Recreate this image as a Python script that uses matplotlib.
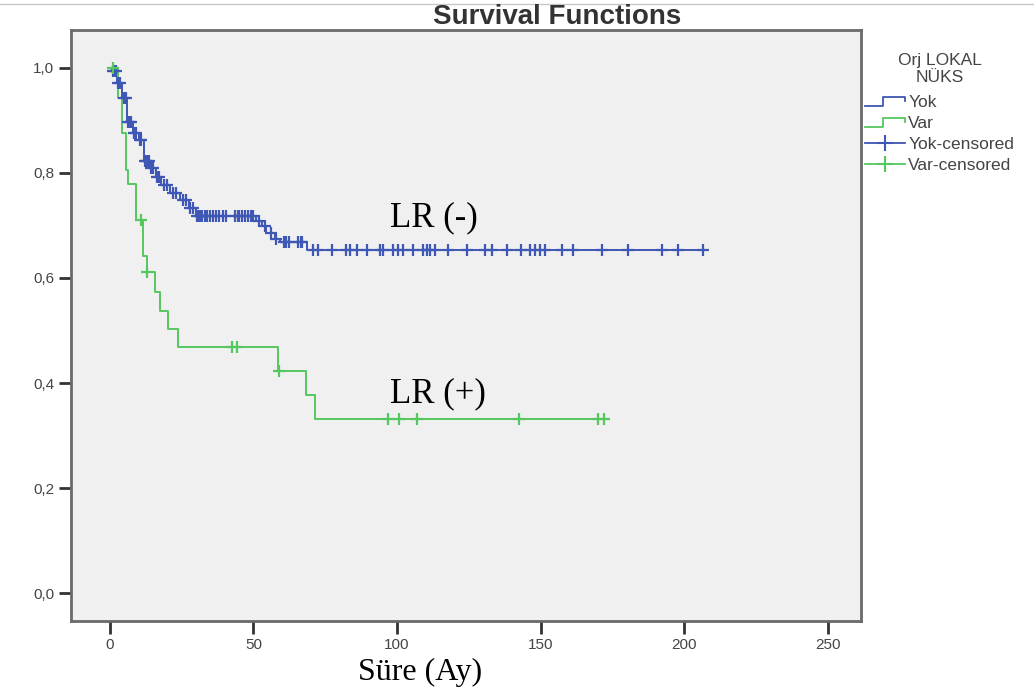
import matplotlib
matplotlib.use("Agg")
import matplotlib.pyplot as plt
import numpy as np
from matplotlib.lines import Line2D
from matplotlib.legend_handler import HandlerBase

# ---------------- data ----------------
yok_times = [0, 0.6, 2.4, 4.2, 6.0, 8.0, 10.0, 11.8, 14.0, 16.0, 18.0, 21.0,
             24.5, 27.5, 30.0, 51.0, 53.0, 54.5, 57.5, 59.2, 68.5]
yok_surv = [1.000, 0.994, 0.971, 0.943, 0.897, 0.876, 0.863, 0.822, 0.810,
            0.792, 0.777, 0.762, 0.748, 0.733, 0.717, 0.708, 0.699, 0.686,
            0.675, 0.669, 0.653]
yok_censored = [1.0, 1.5, 2.0, 3.0, 3.5, 4.8, 5.5, 6.5, 7.0, 7.5, 8.5, 9.0,
                10.5, 11.0, 12.2, 12.6, 13.0, 13.5, 14.5, 15.0, 16.5, 17.0,
                19.0, 20.0, 22.0, 23.0, 25.5, 26.5, 28.0, 29.0, 30.5, 31.0,
                31.5, 32.0, 33.0, 34.0, 35.0, 36.0, 37.0, 38.0, 39.5, 40.5,
                43.5, 44.5, 45.0, 46.0, 47.0, 48.0, 49.0, 50.0, 52.0, 54.0,
                56.0, 58.0, 60.5, 61.5, 62.5, 65.5, 66.5, 67.0,
                70.8, 72.5, 77.2, 82.4, 83.6, 85.9, 89.4, 94.0, 95.2, 98.7,
                100.4, 102.2, 105.6, 109.1, 110.3, 111.4, 113.2, 117.8, 124.2,
                130.6, 132.9, 138.1, 143.3, 146.2, 148.0, 149.7, 151.5, 157.3,
                161.3, 171.2, 180.4, 192.1, 197.9, 206.5]

var_times = [0, 2.9, 4.1, 5.8, 6.4, 9.3, 11.6, 12.8, 15.7, 17.4, 20.3, 23.6,
             58.5, 68.2, 71.4]
var_surv = [1.000, 0.943, 0.876, 0.806, 0.779, 0.710, 0.642, 0.611, 0.573,
            0.537, 0.503, 0.469, 0.423, 0.377, 0.331]
var_censored = [1.0, 10.7, 13.0, 42.4, 44.3, 59.0, 96.9, 100.7, 106.8, 142.5,
                169.9, 172.2]

x_ticks = [0, 50, 100, 150, 200, 250]
y_ticks = [0.0, 0.2, 0.4, 0.6, 0.8, 1.0]
y_ticklabels = ["0,0", "0,2", "0,4", "0,6", "0,8", "1,0"]

title = "Survival Functions"
legend_title = "Orj LOKAL\nNÜKS"
legend_labels = ["Yok", "Var", "Yok-censored", "Var-censored"]
x_label = "Süre (Ay)"
annot_neg = "LR (-)"
annot_pos = "LR (+)"

# ---------------- style ----------------
BLUE = "#3f57b5"
GREEN = "#55c75f"
plt.rcParams['font.family'] = ['Liberation Sans', 'DejaVu Sans']

fig = plt.figure(figsize=(10.34, 6.93), dpi=100)
ax = fig.add_axes([71 / 1034, 1 - 621 / 693, (861 - 71) / 1034, (621 - 30) / 693])
ax.set_facecolor("#f0f0f0")


def km_curve(times, surv, cens):
    end = max(cens[-1], times[-1])
    t = list(times) + [end]
    s = list(surv) + [surv[-1]]
    ct = np.array(cens)
    idx = np.searchsorted(np.array(times), ct, side='right') - 1
    cs = np.array(surv)[idx]
    return t, s, ct, cs


for times, surv, cens, col in [(yok_times, yok_surv, yok_censored, BLUE),
                                (var_times, var_surv, var_censored, GREEN)]:
    t, s, ct, cs = km_curve(times, surv, cens)
    ax.step(t, s, where='post', color=col, lw=1.4, zorder=3)
    ax.plot(ct, cs, linestyle='none', marker='+', markersize=8.5,
            markeredgewidth=1.6, color=col, zorder=4)

ax.set_xlim(-13.5, 261.5)
ax.set_ylim(-0.053, 1.072)
ax.set_xticks(x_ticks)
ax.set_xticklabels([str(v) for v in x_ticks])
ax.set_yticks(y_ticks)
ax.set_yticklabels(y_ticklabels)
ax.tick_params(axis='both', direction='out', length=9, width=2,
               color='#333333', labelsize=11, labelcolor='#444444', pad=3)
for sp in ax.spines.values():
    sp.set_color('#6a6a6a')
    sp.set_linewidth(2)

# annotations
ax.text(97.5, 0.715, annot_neg, family='Liberation Serif', fontsize=25,
        color='black', ha='left', va='center')
ax.text(97.5, 0.38, annot_pos, family='Liberation Serif', fontsize=25,
        color='black', ha='left', va='center')

fig.text(557 / 1034, 1 - 17.5 / 693, title, ha='center', va='center',
         fontsize=20, fontweight='bold', color='#333333')
fig.text(420 / 1034, 1 - 672 / 693, x_label, ha='center', va='center',
         family='Liberation Serif', fontsize=23, color='black')

# thin line at top of the figure
fig.add_artist(Line2D([0, 1], [1 - 4 / 693, 1 - 4 / 693], color='#c8c8c8', lw=1,
                      transform=fig.transFigure))

# legend title
fig.text(940 / 1034, 1 - 69 / 693, legend_title, ha='center', va='center',
         fontsize=12.5, color='#444444', multialignment='center', linespacing=1.15)


class StepHandler(HandlerBase):
    def create_artists(self, legend, orig_handle, xdescent, ydescent, width,
                       height, fontsize, trans):
        x0, y0 = -xdescent, -ydescent
        xs = [x0, x0 + 0.45 * width, x0 + 0.45 * width, x0 + width, x0 + width]
        ys = [y0 + 0.1 * height, y0 + 0.1 * height, y0 + 0.8 * height,
              y0 + 0.8 * height, y0 + 0.5 * height]
        ln = Line2D(xs, ys, color=orig_handle.get_color(), lw=1.3)
        ln.set_transform(trans)
        return [ln]


h_yok = Line2D([], [], color=BLUE)
h_var = Line2D([], [], color=GREEN)
h_yc = Line2D([], [], color=BLUE, marker='+', markersize=12, markeredgewidth=1.5, lw=1.3)
h_vc = Line2D([], [], color=GREEN, marker='+', markersize=12, markeredgewidth=1.5, lw=1.3)

leg = fig.legend([h_yok, h_var, h_yc, h_vc], legend_labels,
                 handler_map={h_yok: StepHandler(), h_var: StepHandler()},
                 loc='upper left', bbox_to_anchor=(865 / 1034, 1 - 95 / 693),
                 frameon=False, fontsize=12.5, handlelength=2.3,
                 handletextpad=0.2, labelspacing=0.34, borderaxespad=0,
                 borderpad=0)
for txt in leg.get_texts():
    txt.set_color('#444444')

fig.savefig("out.png", dpi=100)
